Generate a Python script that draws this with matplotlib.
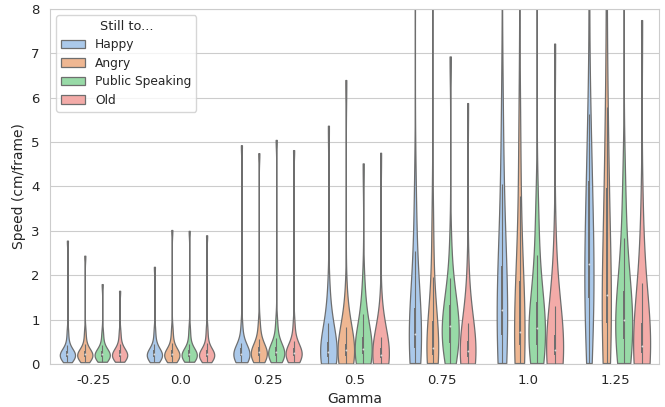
import numpy as np
import matplotlib
matplotlib.use('Agg')
import matplotlib.pyplot as plt
from matplotlib.patches import Patch
import seaborn as sns

# categories
gamma = ['-0.25', '0.0', '0.25', '0.5', '0.75', '1.0', '1.25']
conditions = ['Happy', 'Angry', 'Public Speaking', 'Old']

# speed samples (cm/frame), one list per gamma value
happy = [
    [0.04, 0.09, 0.12, 0.14, 0.16, 0.17, 0.18, 0.19, 0.20, 0.21, 0.22, 0.23, 0.25, 0.27, 0.29, 0.32, 0.43, 0.55, 0.75, 2.78],
    [0.04, 0.09, 0.12, 0.14, 0.16, 0.17, 0.18, 0.19, 0.20, 0.21, 0.22, 0.24, 0.26, 0.28, 0.30, 0.34, 0.45, 0.58, 0.78, 2.19],
    [0.04, 0.08, 0.11, 0.14, 0.16, 0.18, 0.19, 0.20, 0.21, 0.22, 0.24, 0.26, 0.28, 0.31, 0.34, 0.38, 0.47, 0.65, 0.90, 4.93],
    [0.01, 0.06, 0.09, 0.12, 0.15, 0.17, 0.20, 0.22, 0.24, 0.26, 0.29, 0.33, 0.37, 0.42, 0.48, 0.56, 0.93, 1.25, 1.60, 5.37],
    [0.01, 0.10, 0.16, 0.22, 0.30, 0.38, 0.45, 0.52, 0.60, 0.65, 0.70, 0.80, 0.92, 1.05, 1.20, 1.45, 2.55, 3.10, 3.80, 10.0],
    [0.01, 0.15, 0.28, 0.40, 0.55, 0.70, 0.85, 0.98, 1.10, 1.20, 1.25, 1.40, 1.60, 1.85, 2.10, 2.50, 4.06, 4.80, 5.60, 12.0],
    [0.01, 0.35, 0.70, 1.00, 1.30, 1.55, 1.70, 1.80, 1.90, 2.10, 2.40, 2.80, 3.20, 3.60, 4.00, 4.50, 5.10, 5.63, 9.50, 14.0],
]
angry = [
    [0.04, 0.09, 0.12, 0.14, 0.16, 0.17, 0.18, 0.19, 0.20, 0.21, 0.22, 0.23, 0.25, 0.27, 0.29, 0.33, 0.44, 0.56, 0.75, 2.44],
    [0.04, 0.09, 0.12, 0.14, 0.16, 0.17, 0.18, 0.19, 0.20, 0.21, 0.22, 0.24, 0.26, 0.28, 0.31, 0.35, 0.48, 0.60, 0.80, 3.02],
    [0.04, 0.09, 0.12, 0.15, 0.17, 0.19, 0.21, 0.22, 0.24, 0.25, 0.27, 0.29, 0.31, 0.34, 0.37, 0.42, 0.57, 0.72, 0.95, 4.75],
    [0.01, 0.07, 0.10, 0.13, 0.16, 0.19, 0.22, 0.25, 0.28, 0.30, 0.31, 0.34, 0.37, 0.40, 0.44, 0.52, 0.83, 1.10, 1.45, 6.40],
    [0.01, 0.06, 0.10, 0.14, 0.18, 0.22, 0.26, 0.30, 0.33, 0.35, 0.37, 0.42, 0.50, 0.62, 0.90, 1.20, 1.97, 2.60, 3.40, 11.0],
    [0.01, 0.10, 0.18, 0.26, 0.35, 0.44, 0.52, 0.60, 0.66, 0.70, 0.73, 0.82, 0.95, 1.15, 1.75, 2.20, 3.79, 4.60, 5.50, 13.0],
    [0.01, 0.20, 0.40, 0.60, 0.80, 0.95, 1.05, 1.12, 1.20, 1.40, 1.70, 2.10, 2.60, 3.20, 3.80, 4.50, 5.20, 5.79, 9.00, 15.0],
]
public = [
    [0.05, 0.09, 0.12, 0.14, 0.16, 0.17, 0.18, 0.19, 0.20, 0.21, 0.22, 0.23, 0.25, 0.27, 0.29, 0.32, 0.42, 0.55, 0.72, 1.80],
    [0.05, 0.09, 0.12, 0.14, 0.16, 0.17, 0.18, 0.19, 0.20, 0.21, 0.22, 0.24, 0.26, 0.28, 0.30, 0.34, 0.46, 0.60, 0.80, 3.00],
    [0.04, 0.09, 0.12, 0.15, 0.17, 0.19, 0.21, 0.23, 0.24, 0.26, 0.28, 0.30, 0.32, 0.35, 0.38, 0.43, 0.59, 0.75, 1.00, 5.05],
    [0.01, 0.08, 0.12, 0.16, 0.20, 0.23, 0.26, 0.29, 0.31, 0.33, 0.35, 0.39, 0.44, 0.50, 0.58, 0.66, 1.13, 1.40, 1.75, 4.52],
    [0.01, 0.10, 0.20, 0.30, 0.40, 0.50, 0.58, 0.63, 0.70, 0.80, 0.90, 1.00, 1.10, 1.20, 1.30, 1.45, 1.60, 1.93, 2.70, 6.93],
    [0.01, 0.12, 0.20, 0.28, 0.36, 0.45, 0.55, 0.65, 0.74, 0.78, 0.82, 0.92, 1.05, 1.20, 1.35, 1.55, 2.45, 3.00, 3.50, 10.0],
    [0.01, 0.15, 0.26, 0.37, 0.48, 0.58, 0.70, 0.82, 0.92, 0.98, 1.02, 1.12, 1.25, 1.40, 1.58, 1.80, 2.85, 3.40, 4.10, 11.0],
]
old = [
    [0.05, 0.10, 0.12, 0.14, 0.16, 0.17, 0.18, 0.19, 0.20, 0.21, 0.22, 0.24, 0.26, 0.28, 0.30, 0.34, 0.44, 0.57, 0.74, 1.65],
    [0.04, 0.09, 0.12, 0.14, 0.16, 0.17, 0.18, 0.19, 0.20, 0.21, 0.22, 0.24, 0.26, 0.28, 0.31, 0.36, 0.48, 0.62, 0.82, 2.90],
    [0.04, 0.09, 0.12, 0.14, 0.16, 0.18, 0.20, 0.21, 0.23, 0.24, 0.26, 0.28, 0.30, 0.33, 0.36, 0.40, 0.52, 0.70, 0.95, 4.82],
    [0.01, 0.06, 0.08, 0.10, 0.12, 0.14, 0.16, 0.18, 0.19, 0.20, 0.22, 0.24, 0.27, 0.30, 0.34, 0.40, 0.60, 0.85, 1.20, 4.76],
    [0.01, 0.05, 0.08, 0.11, 0.14, 0.17, 0.20, 0.23, 0.26, 0.28, 0.29, 0.32, 0.36, 0.42, 0.50, 0.58, 0.92, 1.40, 2.00, 5.88],
    [0.01, 0.06, 0.10, 0.14, 0.18, 0.22, 0.25, 0.28, 0.30, 0.31, 0.33, 0.37, 0.42, 0.50, 0.62, 0.75, 1.30, 1.90, 2.60, 7.22],
    [0.01, 0.07, 0.12, 0.17, 0.22, 0.27, 0.31, 0.34, 0.37, 0.39, 0.40, 0.45, 0.52, 0.62, 0.88, 1.05, 1.83, 2.60, 3.30, 7.75],
]
series = [happy, angry, public, old]

# kde bandwidth (cm/frame) and violin width, per condition x gamma
BW = [
    [0.13, 0.14, 0.20, 0.55, 1.10, 1.60, 1.50],
    [0.13, 0.14, 0.20, 0.55, 0.85, 1.50, 1.70],
    [0.13, 0.14, 0.20, 0.55, 0.60, 0.90, 1.05],
    [0.13, 0.14, 0.20, 0.55, 0.75, 1.00, 1.15],
]
WID = [
    [0.175, 0.175, 0.185, 0.19, 0.14, 0.12, 0.105],
    [0.175, 0.175, 0.185, 0.19, 0.135, 0.12, 0.105],
    [0.175, 0.175, 0.185, 0.195, 0.195, 0.19, 0.195],
    [0.175, 0.175, 0.185, 0.19, 0.18, 0.195, 0.195],
]

sns.set_style('whitegrid')
pal = [sns.desaturate(c, 0.75) for c in sns.color_palette('pastel', 4)]
edge = '#6e6e6e'

fig = plt.figure(figsize=(6.65, 4.07), dpi=100)
ax = fig.add_axes([0.0752, 0.1057, 0.9158, 0.8722])

for h in range(len(conditions)):
    for g in range(len(gamma)):
        vals = np.array(series[h][g])
        pos = g + (h - 1.5) * 0.2
        b = BW[h][g]
        parts = ax.violinplot([vals], positions=[pos], widths=[WID[h][g]], showextrema=False,
                              points=300, bw_method=lambda k, b=b: b / np.std(k.dataset, ddof=1))
        for body in parts['bodies']:
            body.set_facecolor(pal[h])
            body.set_edgecolor(edge)
            body.set_linewidth(0.9)
            body.set_alpha(1)
            body.set_zorder(2)
        # inner box
        q1, med, q3 = np.percentile(vals, [25, 50, 75])
        iqr = q3 - q1
        lo = vals[vals >= q1 - 1.5 * iqr].min()
        hi = vals[vals <= q3 + 1.5 * iqr].max()
        ax.vlines(pos, lo, hi, color=edge, lw=0.8, zorder=3)
        ax.vlines(pos, q1, q3, color=edge, lw=1.4, zorder=3)
        ax.scatter([pos], [med], s=2, color='#d8d8d8', zorder=4, linewidths=0)

ax.set_xlim(-0.5, 6.5)
ax.set_ylim(0, 8)
ax.set_xticks(range(len(gamma)))
ax.set_xticklabels(gamma)
ax.xaxis.grid(False)
ax.tick_params(labelsize=9.5, pad=4)
ax.set_xlabel('Gamma', fontsize=10, labelpad=3)
ax.set_ylabel('Speed (cm/frame)', fontsize=10)

handles = [Patch(facecolor=pal[i], edgecolor=edge, linewidth=0.9, label=c) for i, c in enumerate(conditions)]
ax.legend(handles=handles, title='Still to...', loc='upper left', fontsize=8.8, title_fontsize=9.3,
          labelspacing=0.45)

fig.savefig('out.png', dpi=100)
